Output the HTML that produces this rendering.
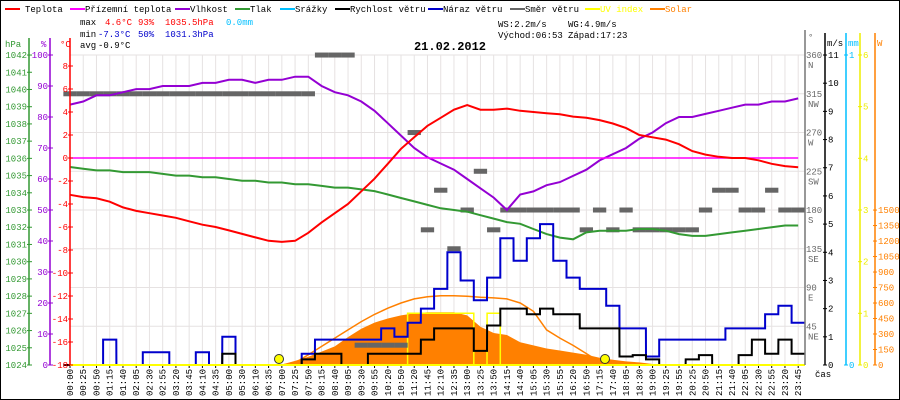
<!DOCTYPE html>
<html><head><meta charset="utf-8"><style>
body{margin:0;background:#fff}
svg{display:block;font-family:"Liberation Mono",monospace;font-size:9px}
</style></head><body>
<svg id="c" width="900" height="400" viewBox="0 0 900 400" xmlns="http://www.w3.org/2000/svg">
<rect x="0.5" y="0.5" width="899" height="399" fill="#fff" stroke="#000"/>
<g id="legend">
 <g><rect x="5" y="8" width="15" height="2" fill="#f00"/><text x="25" y="12">Teplota</text></g>
 <g><rect x="70" y="8" width="15" height="2" fill="#f0f"/><text x="85" y="12">Přízemní teplota</text></g>
 <g><rect x="175" y="8" width="15" height="2" fill="#9400d3"/><text x="190" y="12">Vlhkost</text></g>
 <g><rect x="235" y="8" width="15" height="2" fill="#339933"/><text x="250" y="12">Tlak</text></g>
 <g><rect x="280" y="8" width="15" height="2" fill="#00bfff"/><text x="295" y="12">Srážky</text></g>
 <g><rect x="335" y="8" width="15" height="2" fill="#000"/><text x="350" y="12">Rychlost větru</text></g>
 <g><rect x="428" y="8" width="15" height="2" fill="#0000cc"/><text x="443" y="12">Náraz větru</text></g>
 <g><rect x="510" y="8" width="15" height="2" fill="#666"/><text x="525" y="12">Směr větru</text></g>
 <g><rect x="585" y="8" width="15" height="2" fill="#ff0"/><text x="600" y="12" fill="#ff0">UV index</text></g>
 <g><rect x="650" y="8" width="15" height="2" fill="#ff8000"/><text x="665" y="12" fill="#ff8000">Solar</text></g>
</g>
<g>
 <text x="80" y="25">max</text><text x="105" y="25" fill="#f00">4.6°C</text><text x="138" y="25" fill="#f00">93%</text><text x="165" y="25" fill="#f00">1035.5hPa</text><text x="226" y="25" fill="#00bfff">0.0mm</text>
 <text x="80" y="37">min</text><text x="98" y="37" fill="#0000cc">-7.3°C</text><text x="138" y="37" fill="#0000cc">50%</text><text x="165" y="37" fill="#0000cc">1031.3hPa</text>
 <text x="80" y="48">avg</text><text x="98" y="48">-0.9°C</text>
 <text x="498" y="27">WS:2.2m/s</text><text x="568" y="27">WG:4.9m/s</text>
 <text x="498" y="38">Východ:06:53</text><text x="568" y="38">Západ:17:23</text>
</g>
<text x="450" y="50" text-anchor="middle" font-size="12" font-weight="bold">21.02.2012</text>
<g id="grid"></g>
<g id="marks"></g>
<g id="axes"></g>
</svg>
<script>
const xLabels=["00:00","00:25","00:50","01:15","01:40","02:05","02:30","02:55","03:20","03:45","04:10","04:35","05:00","05:30","06:10","06:35","07:00","07:25","07:50","08:15","08:40","09:05","09:30","09:55","10:20","10:50","11:20","11:45","12:10","12:35","13:00","13:25","13:50","14:15","14:40","15:05","15:30","15:55","16:20","16:50","17:15","17:40","18:05","18:30","19:00","19:25","19:55","20:25","20:50","21:15","21:40","22:05","22:30","22:55","23:20","23:45"];
const temperature=[-3.2,-3.4,-3.5,-3.8,-4.3,-4.6,-4.8,-5,-5.2,-5.5,-5.8,-6,-6.3,-6.6,-6.9,-7.2,-7.3,-7.2,-6.5,-5.6,-4.8,-4,-2.9,-1.8,-0.5,0.8,1.8,2.8,3.5,4.2,4.6,4.2,4.2,4.3,4.1,4.0,3.9,3.8,3.6,3.5,3.3,3.0,2.6,2.0,1.8,1.6,1.2,0.6,0.3,0.1,0,0,-0.2,-0.5,-0.7,-0.8];
const apparentTemp=[0,0,0,0,0,0,0,0,0,0,0,0,0,0,0,0,0,0,0,0,0,0,0,0,0,0,0,0,0,0,0,0,0,0,0,0,0,0,0,0,0,0,0,0,0,0,0,0,0,0,0,0,0,0,0,0];
const humidity=[84,85,87,87,88,89,89,90,90,90,91,91,92,92,91,92,92,93,93,90,88,87,85,82,78,74,70,67,65,63,60,57,54,50,55,56,58,59,61,63,66,68,70,73,75,78,80,80,81,82,83,84,84,85,85,86];
const pressure=[1035.5,1035.4,1035.3,1035.3,1035.2,1035.2,1035.2,1035.1,1035,1035,1034.9,1034.9,1034.8,1034.7,1034.7,1034.6,1034.6,1034.5,1034.5,1034.4,1034.3,1034.3,1034.2,1034.1,1033.9,1033.7,1033.5,1033.3,1033.1,1033,1032.9,1032.7,1032.5,1032.3,1032.2,1031.9,1031.6,1031.4,1031.3,1031.7,1031.8,1031.8,1031.8,1031.9,1031.9,1031.8,1031.6,1031.5,1031.5,1031.6,1031.7,1031.8,1031.9,1032,1032.1,1032.1];
const windSpeed=[0,0,0,0,0,0,0,0,0,0,0,0,0.4,0,0,0,0,0,0.2,0.4,0.4,0,0,0.4,0.4,0.4,0.4,0.9,1.3,1.3,1.3,0.5,1.4,2.0,2.0,1.8,2.0,1.8,1.8,1.3,1.3,1.3,0.3,0.35,0.2,0,0,0.2,0.35,0,0,0.35,0.9,0.4,0.9,0.4];
const windGust=[0,0,0,0.9,0,0,0.45,0.45,0,0,0.45,0,1.0,0,0,0,0,0,0.4,0.9,0.9,0.9,0.9,0.9,1.3,1.0,1.5,2.0,2.7,4.0,3.0,2.3,3.1,4.5,3.7,4.5,5.0,3.7,3.1,2.7,2.7,2.1,1.3,1.3,0.3,0.9,0.9,0.9,0.9,0.9,1.3,1.3,1.3,1.8,2.1,1.5];
const windDir=[315,315,315,315,315,315,315,315,315,315,315,315,315,315,315,315,315,315,315,360,360,360,23,23,23,23,270,157,203,135,180,225,157,180,180,180,180,180,180,157,180,157,180,157,157,157,157,157,180,203,203,180,180,203,180,180];
const solar=[0,0,0,0,0,0,0,0,0,0,0,0,0,0,0,0,5,40,80,130,180,270,350,410,450,480,500,510,510,510,480,370,310,290,220,190,160,140,120,100,70,50,35,25,10,0,0,0,0,0,0,0,0,0,0,0];
const solarMax=[0,0,0,0,0,0,0,0,0,0,0,0,0,0,0,0,0,20,100,180,260,340,420,490,550,600,640,660,670,670,665,655,650,640,600,520,340,260,190,110,30,0,0,0,0,0,0,0,0,0,0,0,0,0,0,0];
const uvIndex=[0,0,0,0,0,0,0,0,0,0,0,0,0,0,0,0,0,0,0,0,0,0,0,0,0,0,1,1,1,1,1,0,1,0,0,0,0,0,0,0,0,0,0,0,0,0,0,0,0,0,0,0,0,0,0,0];
const hpaTicks=[1024,1025,1026,1027,1028,1029,1030,1031,1032,1033,1034,1035,1036,1037,1038,1039,1040,1041,1042];
const humTicks=[0,10,20,30,40,50,60,70,80,90,100];
const tempTicks=[-18,-16,-14,-12,-10,-8,-6,-4,-2,0,2,4,6,8];
const dirTicks=[45,90,135,180,225,270,315,360];
const dirNames=["NE","E","SE","S","SW","W","NW","N"];
const msTicks=[0,1,2,3,4,5,6,7,8,9,10,11];
const mmTicks=[0,1];
const uvTicks=[0,1,2,3,4,5,6];
const wTicks=[0,150,300,450,600,750,900,1050,1200,1350,1500];

const NS="http://www.w3.org/2000/svg";
const X=i=>70+i*13.24;
const yT=t=>158-11.5*t, yH=h=>365-3.1*h, yP=p=>365-(p-1024)*17.22;
const yV=v=>365-28.18*v, yD=d=>365-0.861*d, yW=w=>365-0.1033*w, yU=u=>365-51.67*u, yM=m=>365-310*m;
function el(tag,at,parent,txt){const e=document.createElementNS(NS,tag);for(const k in at)e.setAttribute(k,at[k]);if(txt!==undefined)e.textContent=txt;document.getElementById(parent).appendChild(e);return e;}
dirTicks.forEach(d=>{const e=el('line',{x1:70,x2:805,y1:yD(d),y2:yD(d),stroke:'#e6e2e2'},'grid');

});
xLabels.forEach((l,i)=>{const e=el('line',{x1:X(i),x2:X(i),y1:55,y2:365,stroke:'#e6e2e2'},'grid');

});
function pts(arr,f){return arr.map((v,i)=>X(i).toFixed(1)+','+f(v).toFixed(1)).join(' ');}
function stepPts(arr,f){let s=[];arr.forEach((v,i)=>{const x0=X(i)-6.6,x1=X(i)+6.6;s.push(x0.toFixed(1)+','+f(v).toFixed(1));s.push(x1.toFixed(1)+','+f(v).toFixed(1));});return s.join(' ');}
{const s=solar.map((v,i)=>X(i).toFixed(1)+','+yW(v).toFixed(1));const e=el('polygon',{points:X(0)+',365 '+s.join(' ')+' '+X(solar.length-1)+',365',fill:'#ff8000'},'marks');

}
{const e=el('polyline',{points:pts(solarMax,yW),fill:'none',stroke:'#ff8000','stroke-width':1.5},'marks');

}
{const e=el('polyline',{points:stepPts(uvIndex,yU),fill:'none',stroke:'#ff0','stroke-width':1.5},'marks');

}
windDir.forEach((d,i)=>{const e=el('rect',{x:X(i)-6.65,y:yD(d)-2.5,width:13.3,height:5,fill:'#666'},'marks');

});
{const e=el('polyline',{points:pts(pressure,yP),fill:'none',stroke:'#339933','stroke-width':2},'marks');

}
{const e=el('polyline',{points:pts(humidity,yH),fill:'none',stroke:'#9400d3','stroke-width':2},'marks');

}
{const e=el('polyline',{points:pts(apparentTemp,yT),fill:'none',stroke:'#f0f','stroke-width':1.5},'marks');

}
{const e=el('polyline',{points:pts(temperature,yT),fill:'none',stroke:'#f00','stroke-width':2},'marks');

}
{const e=el('polyline',{points:stepPts(windGust,yV),fill:'none',stroke:'#0000cc','stroke-width':2},'marks');

}
{const e=el('polyline',{points:stepPts(windSpeed,yV),fill:'none',stroke:'#000','stroke-width':2},'marks');

}
[[279,'sunrise-marker'],[605,'sunset-marker']].forEach(([x,n])=>{const e=el('circle',{cx:x,cy:359,r:4.5,fill:'#ff0',stroke:'#333'},'marks');

});
el('line',{x1:70,x2:805,y1:365,y2:365,stroke:'#ff0','stroke-width':2},'axes');
xLabels.forEach((l,i)=>{el('line',{x1:X(i),x2:X(i),y1:366,y2:368,stroke:'#000'},'axes');
const t=el('text',{x:0,y:0,transform:`translate(${X(i)+3},396) rotate(-90)`},'axes',l);

});
el('text',{x:815,y:377},'axes','čas');
function vaxis(x,col,ticks,f,lbl,anchorX,title,tx){el('line',{x1:x,x2:x,y1:38,y2:365,stroke:col,'stroke-width':1.5},'axes');
ticks.forEach(v=>{el('line',{x1:x-2,x2:x+3,y1:f(v),y2:f(v),stroke:col},'axes');
const t=el('text',{x:anchorX,y:f(v)+3,fill:col,'text-anchor':lbl},'axes',String(v));

});
el('text',{x:tx,y:47,fill:col},'axes',title);}
vaxis(29,'#339933',hpaTicks,yP,'end',27,'hPa',5);
vaxis(50,'#9400d3',humTicks,yH,'end',48,'%',41);
vaxis(70,'#f00',tempTicks,yT,'end',68,'°C',60);
el('line',{x1:805,x2:805,y1:30,y2:365,stroke:'#777','stroke-width':1.5},'axes');
el('text',{x:808,y:40,fill:'#666'},'axes','°');
dirTicks.forEach((d,k)=>{el('text',{x:806,y:yD(d)+3,fill:'#666'},'axes',String(d));el('text',{x:808,y:yD(d)+13,fill:'#666'},'axes',dirNames[k]);});
function raxis(x,col,ticks,f,title){el('line',{x1:x,x2:x,y1:33,y2:365,stroke:col,'stroke-width':1.5},'axes');
el('text',{x:x+2,y:46,fill:col},'axes',title);
ticks.forEach(v=>{el('line',{x1:x-2,x2:x+2,y1:f(v),y2:f(v),stroke:col},'axes');
const t=el('text',{x:x+3,y:f(v)+3,fill:col},'axes',String(v));

});}
raxis(825,'#000',msTicks,yV,'m/s');
raxis(846,'#00bfff',mmTicks,yM,'mm');
raxis(860,'#ee0',uvTicks,yU,'');
raxis(875,'#ff8000',wTicks,yW,'W');
</script>
</body></html>
